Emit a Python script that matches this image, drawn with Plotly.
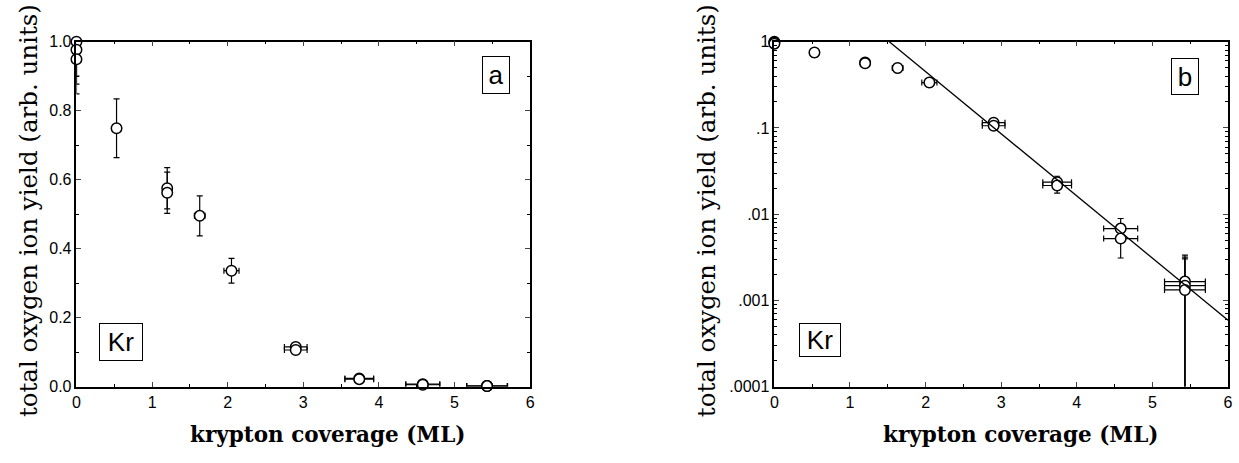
import plotly.graph_objects as go

# ---- data ----
coverage = [0, 0, 0, 0.53, 1.2, 1.2, 1.63, 2.05, 2.9, 2.9, 3.74, 3.74, 4.58, 4.58, 5.43, 5.43, 5.43]
yield_ = [1.0, 0.977, 0.949, 0.749, 0.575, 0.562, 0.495, 0.336, 0.115, 0.106,
          0.0235, 0.0215, 0.0068, 0.0052, 0.00165, 0.00148, 0.00132]
yield_err = [0.10, 0.10, 0.10, 0.085, 0.06, 0.06, 0.058, 0.036, 0.008, 0.008,
             0.004, 0.004, 0.0021, 0.0021, 0.0017, 0.0017, 0.0017]
coverage_err = [0, 0, 0, 0, 0.04, 0.04, 0.07, 0.1, 0.15, 0.15, 0.19, 0.19, 0.225, 0.225, 0.27, 0.27, 0.27]

fit_x = [1.52, 6.0]
fit_y = [1.0, 0.000586]

x_ticks = [0, 1, 2, 3, 4, 5, 6]
lin_ticks = [0.0, 0.2, 0.4, 0.6, 0.8, 1.0]
lin_ticktext = ["0.0", "0.2", "0.4", "0.6", "0.8", "1.0"]
log_ticks = [1e-4, 1e-3, 1e-2, 1e-1, 1]
log_ticktext = [".0001", ".001", ".01", ".1", "1"]

y_title = "total oxygen ion yield (arb. units)"
x_title = "krypton coverage (ML)"

W, H = 1239, 463
SERIF = "DejaVu Serif"
SANS = "Liberation Sans, Arial, sans-serif"

fig = go.Figure()

for xa, ya in (("x", "y"), ("x2", "y2")):
    # error bars (clipped to plot area)
    fig.add_trace(go.Scatter(
        x=coverage, y=yield_, xaxis=xa, yaxis=ya, mode="markers",
        marker=dict(size=2, opacity=0),
        error_y=dict(type="data", array=yield_err, color="black", thickness=1.2, width=3),
        error_x=dict(type="data", array=coverage_err, color="black", thickness=1.2, width=3),
        cliponaxis=True, showlegend=False, hoverinfo="skip"))
    # open circles (not clipped)
    fig.add_trace(go.Scatter(
        x=coverage, y=yield_, xaxis=xa, yaxis=ya, mode="markers",
        marker=dict(size=10.5, color="white", line=dict(color="black", width=1.5)),
        cliponaxis=False, showlegend=False))

fig.add_trace(go.Scatter(x=fit_x, y=fit_y, xaxis="x2", yaxis="y2", mode="lines",
                         line=dict(color="black", width=1.3), showlegend=False))

def px(xp):
    return xp / W

def py(yp):
    return 1 - yp / H

dom_y = [py(393), py(35)]
common_x = dict(range=[0, 6], tickvals=x_ticks, ticks="inside", ticklen=5, tickwidth=1.2,
                showline=True, linecolor="black", linewidth=1.5, mirror="ticks",
                showgrid=False, zeroline=False,
                tickfont=dict(family=SANS, size=16, color="black"),
                minor=dict(dtick=0.5, ticks="inside", ticklen=3, tickwidth=1, tickcolor="black"))
common_y = dict(ticks="inside", ticklen=5, tickwidth=1.2,
                showline=True, linecolor="black", linewidth=1.5, mirror="ticks",
                showgrid=False, zeroline=False,
                tickfont=dict(family=SANS, size=16, color="black"))

minor_log = [k * 10 ** e for e in range(-4, 0) for k in range(2, 10)]

fig.update_layout(
    width=W, height=H, margin=dict(l=0, r=0, t=0, b=0),
    plot_bgcolor="white", paper_bgcolor="white",
    xaxis=dict(domain=[px(73), px(530)], anchor="y", **common_x),
    yaxis=dict(domain=dom_y, anchor="x", range=[0, 1], tickvals=lin_ticks, ticktext=lin_ticktext,
               minor=dict(dtick=0.1, ticks="inside", ticklen=3, tickwidth=1, tickcolor="black"),
               **common_y),
    xaxis2=dict(domain=[px(776), px(1233)], anchor="y2", **common_x),
    yaxis2=dict(domain=dom_y, anchor="x2", type="log", range=[-4, 0], tickvals=log_ticks,
                ticktext=log_ticktext,
                minor=dict(tickvals=minor_log, ticks="inside", ticklen=3, tickwidth=1, tickcolor="black"),
                **common_y),
)

ann = []
for cx, cy in ((24, 210), (707, 210)):
    ann.append(dict(text=y_title, x=px(cx), y=py(cy), xref="paper", yref="paper",
                    textangle=-90, showarrow=False, xanchor="center", yanchor="middle",
                    font=dict(family=SERIF, size=24.5, color="black")))
for cx, cy in ((326, 443), (1024, 443)):
    ann.append(dict(text="<b>" + x_title + "</b>", x=px(cx), y=py(cy), xref="paper", yref="paper",
                    showarrow=False, xanchor="center", yanchor="middle",
                    font=dict(family=SERIF, size=21.5, color="black")))
for label, cx, cy, w, h in (("Kr", 118, 347, 42, 36), ("Kr", 822, 345, 40, 32),
                            ("a", 496, 70, 26, 36), ("b", 1190, 71, 26, 35)):
    ann.append(dict(text=label, x=px(cx), y=py(cy), xref="paper", yref="paper",
                    showarrow=False, xanchor="center", yanchor="middle",
                    width=w, height=h, borderpad=0, bordercolor="black", borderwidth=1,
                    bgcolor="white",
                    font=dict(family=SANS, size=26, color="black")))
fig.update_layout(annotations=ann)

fig.write_html("out.html")
